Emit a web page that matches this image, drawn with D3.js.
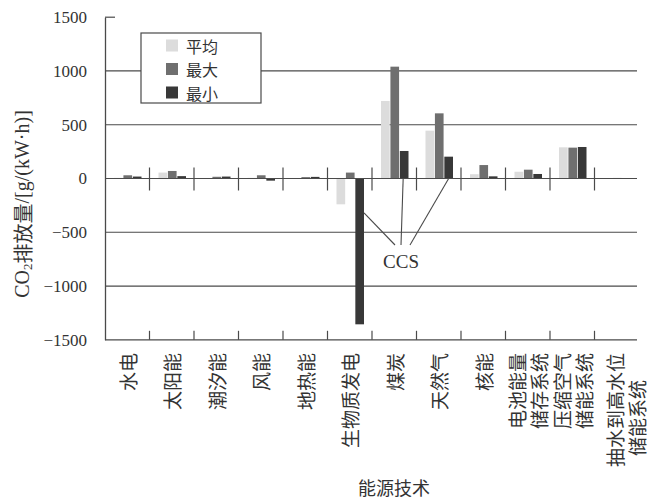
<!DOCTYPE html>
<html>
<head>
<meta charset="utf-8">
<script src="https://cdn.jsdelivr.net/npm/d3@7"></script>
<style>
  html, body { margin: 0; padding: 0; background: #fff; }
  svg { display: block; }
</style>
</head>
<body>
<svg id="chart" width="651" height="501"></svg>
<script>
// Energy technologies (each label may wrap onto two lines)
const categories = [
  ["水电"], ["太阳能"], ["潮汐能"], ["风能"], ["地热能"], ["生物质发电"],
  ["煤炭"], ["天然气"], ["核能"], ["电池能量", "储存系统"],
  ["压缩空气", "储能系统"], ["抽水到高水位", "储能系统"]
];
const seriesNames = ["平均", "最大", "最小"];
// CO2 emissions, g/(kW·h)
const avgValues = [6, 55, 5, 6, 5, -240, 721, 445, 40, 63, 290, 3];
const maxValues = [30, 70, 16, 30, 13, 55, 1040, 606, 125, 82, 287, 5];
const minValues = [18, 22, 18, -20, 15, -1356, 256, 203, 20, 42, 293, 3];
const yTicks = [-1500, -1000, -500, 0, 500, 1000, 1500];
const ccsTargets = [5, 6, 7]; // min bars of the CCS variants

const svg = d3.select("#chart");
const plotLeft = 105, plotRight = 639, plotTop = 17.2, plotBottom = 339.8;

const x = d3.scaleBand().domain(d3.range(categories.length)).range([plotLeft, plotRight]).padding(0);
const xs = d3.scaleBand().domain(d3.range(3)).range([9, 36.5]).paddingInner(0.08);
const y = d3.scaleLinear().domain([-1500, 1500]).range([plotBottom, plotTop]);

const colors = ["#dcdcdc", "#6f6f6f", "#383838"];
const series = [avgValues, maxValues, minValues];
const lineCol = "#4a4a4a";
const textCol = "#333";
const serif = "'Liberation Serif', 'DejaVu Serif', serif";
const cjk = "'Noto Sans CJK SC', sans-serif";

// Horizontal gridlines
svg.append("g").selectAll("line")
  .data(yTicks.filter(t => t !== 1500 && t !== -1500 && t !== 0))
  .join("line")
  .attr("x1", plotLeft).attr("x2", plotRight - 2)
  .attr("y1", d => y(d)).attr("y2", d => y(d))
  .attr("stroke", lineCol).attr("stroke-width", 1.2);

// Bars
const gBars = svg.append("g");
series.forEach((vals, s) => {
  gBars.selectAll(null).data(vals).join("rect")
    .attr("x", (d, i) => x(i) + xs(s))
    .attr("width", xs.bandwidth())
    .attr("y", d => y(Math.max(0, d)))
    .attr("height", d => Math.max(0.8, Math.abs(y(d) - y(0))))
    .attr("fill", colors[s]);
});

// Zero line with category separators crossing it
svg.append("line")
  .attr("x1", plotLeft).attr("x2", plotRight - 2)
  .attr("y1", y(0)).attr("y2", y(0))
  .attr("stroke", lineCol).attr("stroke-width", 1.2);
const separators = d3.range(1, categories.length).map(i => x(i));
svg.append("g").selectAll("line").data(separators).join("line")
  .attr("x1", d => d).attr("x2", d => d)
  .attr("y1", y(0) - 11).attr("y2", y(0) + 12)
  .attr("stroke", lineCol).attr("stroke-width", 1.2);

// Y axis
const yAxis = d3.axisLeft(y).tickValues(yTicks).tickSize(0).tickPadding(18)
  .tickFormat(d => d < 0 ? "\u2212" + Math.abs(d) : String(d));
const gy = svg.append("g").attr("transform", `translate(${plotLeft},0)`).call(yAxis);
gy.select(".domain").attr("stroke", lineCol).attr("stroke-width", 1.3);
gy.selectAll("text").attr("font-family", serif).attr("font-size", 17).attr("fill", textCol);
svg.append("line").attr("x1", plotLeft).attr("x2", plotLeft + 10)
  .attr("y1", y(1500)).attr("y2", y(1500)).attr("stroke", lineCol).attr("stroke-width", 1.2);

// Bottom axis with inward ticks
svg.append("line").attr("x1", plotLeft).attr("x2", plotRight - 2)
  .attr("y1", y(-1500)).attr("y2", y(-1500)).attr("stroke", lineCol).attr("stroke-width", 1.3);
svg.append("g").selectAll("line").data(separators).join("line")
  .attr("x1", d => d).attr("x2", d => d)
  .attr("y1", y(-1500) - 9).attr("y2", y(-1500))
  .attr("stroke", lineCol).attr("stroke-width", 1.2);

// Category labels, rotated, reading upward from below the axis.
// The last label sits a little right of its band centre.
const labelTop = 353, fs = 19, lineGap = 22;
categories.forEach((lines, i) => {
  const lastShift = i === categories.length - 1 ? 9 : 0;
  const cx = x(i) + x.bandwidth() / 2 + lastShift;
  const maxLen = d3.max(lines, l => l.length);
  const g = svg.append("g").attr("transform", `translate(${cx},${labelTop}) rotate(-90)`);
  lines.forEach((l, k) => {
    const off = (k - (lines.length - 1) / 2) * lineGap;
    const shorter = l.length < maxLen;
    g.append("text")
      .attr("x", -(maxLen * fs) / 2 - (shorter ? 8 : 0))
      .attr("y", off)
      .attr("text-anchor", "middle")
      .attr("dominant-baseline", "central")
      .attr("font-family", cjk).attr("font-size", fs).attr("fill", textCol)
      .text(l);
  });
});

// Axis titles
svg.append("text")
  .attr("x", 394).attr("y", 487)
  .attr("text-anchor", "middle").attr("dominant-baseline", "central")
  .attr("font-family", cjk).attr("font-size", 18).attr("fill", textCol)
  .text("能源技术");

const yTitle = svg.append("text")
  .attr("transform", "translate(22,204) rotate(-90)")
  .attr("text-anchor", "middle").attr("dominant-baseline", "central")
  .attr("font-size", 20).attr("fill", textCol);
yTitle.append("tspan").attr("font-family", serif).text("CO");
yTitle.append("tspan").attr("font-family", serif).attr("font-size", 13).attr("dy", 5).text("2");
yTitle.append("tspan").attr("font-family", cjk).attr("dy", -5).text("排放量");
yTitle.append("tspan").attr("font-family", serif).text("/[g/(kW·h)]");

// Legend
const lg = svg.append("g");
lg.append("rect").attr("x", 141).attr("y", 33).attr("width", 120).attr("height", 70)
  .attr("fill", "#fff").attr("stroke", lineCol).attr("stroke-width", 1.2);
seriesNames.forEach((n, s) => {
  const cy = 45.5 + s * 23.5;
  lg.append("rect").attr("x", 166).attr("y", cy - 6).attr("width", 12).attr("height", 12)
    .attr("fill", colors[s]);
  lg.append("text").attr("x", 186).attr("y", cy)
    .attr("dominant-baseline", "central")
    .attr("font-family", cjk).attr("font-size", 16).attr("fill", textCol).text(n);
});

// CCS callout
const ccsX = 401, ccsY = 245;
const callout = svg.append("g").attr("stroke", lineCol).attr("stroke-width", 1.1).attr("fill", "none");
const pts = [
  [x(ccsTargets[0]) + xs(2) + xs.bandwidth(), y(-320), ccsX - 6, ccsY],
  [x(ccsTargets[1]) + xs(2) + xs.bandwidth() / 2 - 1, y(0), ccsX, ccsY],
  [x(ccsTargets[2]) + xs(2) + xs.bandwidth() / 2, y(0), ccsX + 9, ccsY]
];
pts.forEach(p => callout.append("line").attr("x1", p[0]).attr("y1", p[1]).attr("x2", p[2]).attr("y2", p[3]));
svg.append("text").attr("x", ccsX).attr("y", 268)
  .attr("text-anchor", "middle")
  .attr("font-family", serif).attr("font-size", 19).attr("fill", textCol).text("CCS");
</script>
</body>
</html>
